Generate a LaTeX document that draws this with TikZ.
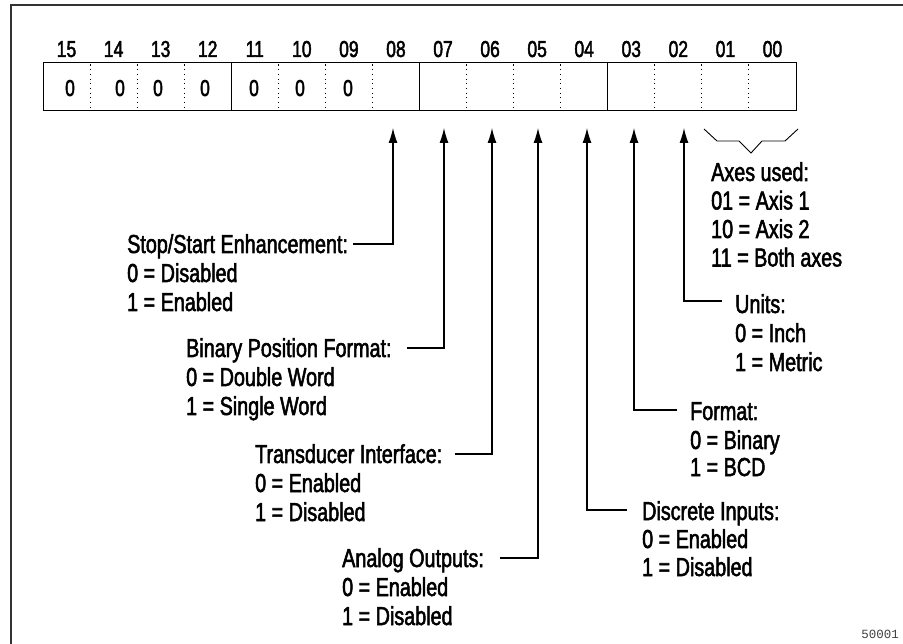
\documentclass[tikz,border=0pt]{standalone}
\usepackage{fontspec}
\setmainfont{Liberation Sans}[FakeStretch=0.76,FakeBold=2]
\newfontfamily\refmono{Liberation Mono}
\usetikzlibrary{arrows.meta}
\begin{document}
\begin{tikzpicture}[x=1pt,y=-1pt,
  lab/.style={anchor=base west, inner sep=0pt, font=\fontsize{26}{29}\selectfont},
  bitnum/.style={anchor=base, inner sep=0pt, font=\fontsize{23}{25}\selectfont},
  ptr/.style={line width=1.1pt, -{Latex[length=15pt,width=9pt]}},
  frameline/.style={line width=1.6pt, black!80},
  reg/.style={line width=1pt},
  sepline/.style={line width=1.1pt, dash pattern=on 1.1pt off 3.6pt},
  bracel/.style={line width=0.9pt}]
\useasboundingbox (0,0) rectangle (903,644);
% frame
\draw[frameline] (11,644) -- (11,5) -- (903,5);
% register
\draw[reg] (43,63) rectangle (796,111);
\foreach \k in {4,8,12} \draw[reg] ({43+47.0625*\k},63) -- ({43+47.0625*\k},111);
\foreach \k in {1,2,3,5,6,7,9,10,11,13,14,15}
  \draw[sepline] ({43+47.0625*\k},64.5) -- ({43+47.0625*\k},111);
% bit numbers
\foreach \t [count=\i from 0] in {15,14,13,12,11,10,09,08,07,06,05,04,03,02,01,00}
  \node[bitnum] (n\t) at ({43+47.0625*(\i+0.5)},57) {\t};
% zeros
\foreach \x [count=\i] in {70,120,158,205,254,300,348}
  \node[bitnum] (z\i) at (\x,96) {0};
% pointer coordinates
\coordinate (t08) at (393,128); \coordinate (s08) at (353,244);
\coordinate (t07) at (444,128); \coordinate (s07) at (407,348);
\coordinate (t06) at (492,128); \coordinate (s06) at (455,454);
\coordinate (t05) at (538,128); \coordinate (s05) at (500,558);
\coordinate (t04) at (587,128); \coordinate (s04) at (627,510);
\coordinate (t03) at (634,128); \coordinate (s03) at (677,410);
\coordinate (t02) at (684,128); \coordinate (s02) at (722,301);
\foreach \b in {08,07,06,05,04,03,02} \draw[ptr] (s\b) -| (t\b);
% brace under 01/00
\draw[bracel] (704,129) -- (717,141) -- (739,141) -- (751,153) -- (762,141) -- (785,141) -- (798,129);
% labels left
\node[lab] (l08a) at (127,253) {Stop/Start Enhancement:};
\node[lab] (l08b) at (127,282) {0 = Disabled};
\node[lab] (l08c) at (127,311) {1 = Enabled};
\node[lab] (l07a) at (186,357) {Binary Position Format:};
\node[lab] (l07b) at (186,386) {0 = Double Word};
\node[lab] (l07c) at (186,415) {1 = Single Word};
\node[lab] (l06a) at (255,463) {Transducer Interface:};
\node[lab] (l06b) at (255,492) {0 = Enabled};
\node[lab] (l06c) at (255,521) {1 = Disabled};
\node[lab] (l05a) at (342,567) {Analog Outputs:};
\node[lab] (l05b) at (342,596) {0 = Enabled};
\node[lab] (l05c) at (342,625) {1 = Disabled};
% labels right
\node[lab] (lxa) at (711,181) {Axes used:};
\node[lab] (lxb) at (711,209.5) {01 = Axis 1};
\node[lab] (lxc) at (711,238) {10 = Axis 2};
\node[lab] (lxd) at (711,266.5) {11 = Both axes};
\node[lab] (l02a) at (735,313) {Units:};
\node[lab] (l02b) at (735,342) {0 = Inch};
\node[lab] (l02c) at (735,371) {1 = Metric};
\node[lab] (l03a) at (690,420) {Format:};
\node[lab] (l03b) at (690,449) {0 = Binary};
\node[lab] (l03c) at (690,476) {1 = BCD};
\node[lab] (l04a) at (642,520) {Discrete Inputs:};
\node[lab] (l04b) at (642,548) {0 = Enabled};
\node[lab] (l04c) at (642,576) {1 = Disabled};
% figure number
\node[anchor=base east, inner sep=0pt, font=\refmono\fontsize{12.5}{14}\selectfont, black!75] (fignum) at (899,638) {50001};
\end{tikzpicture}
\end{document}
